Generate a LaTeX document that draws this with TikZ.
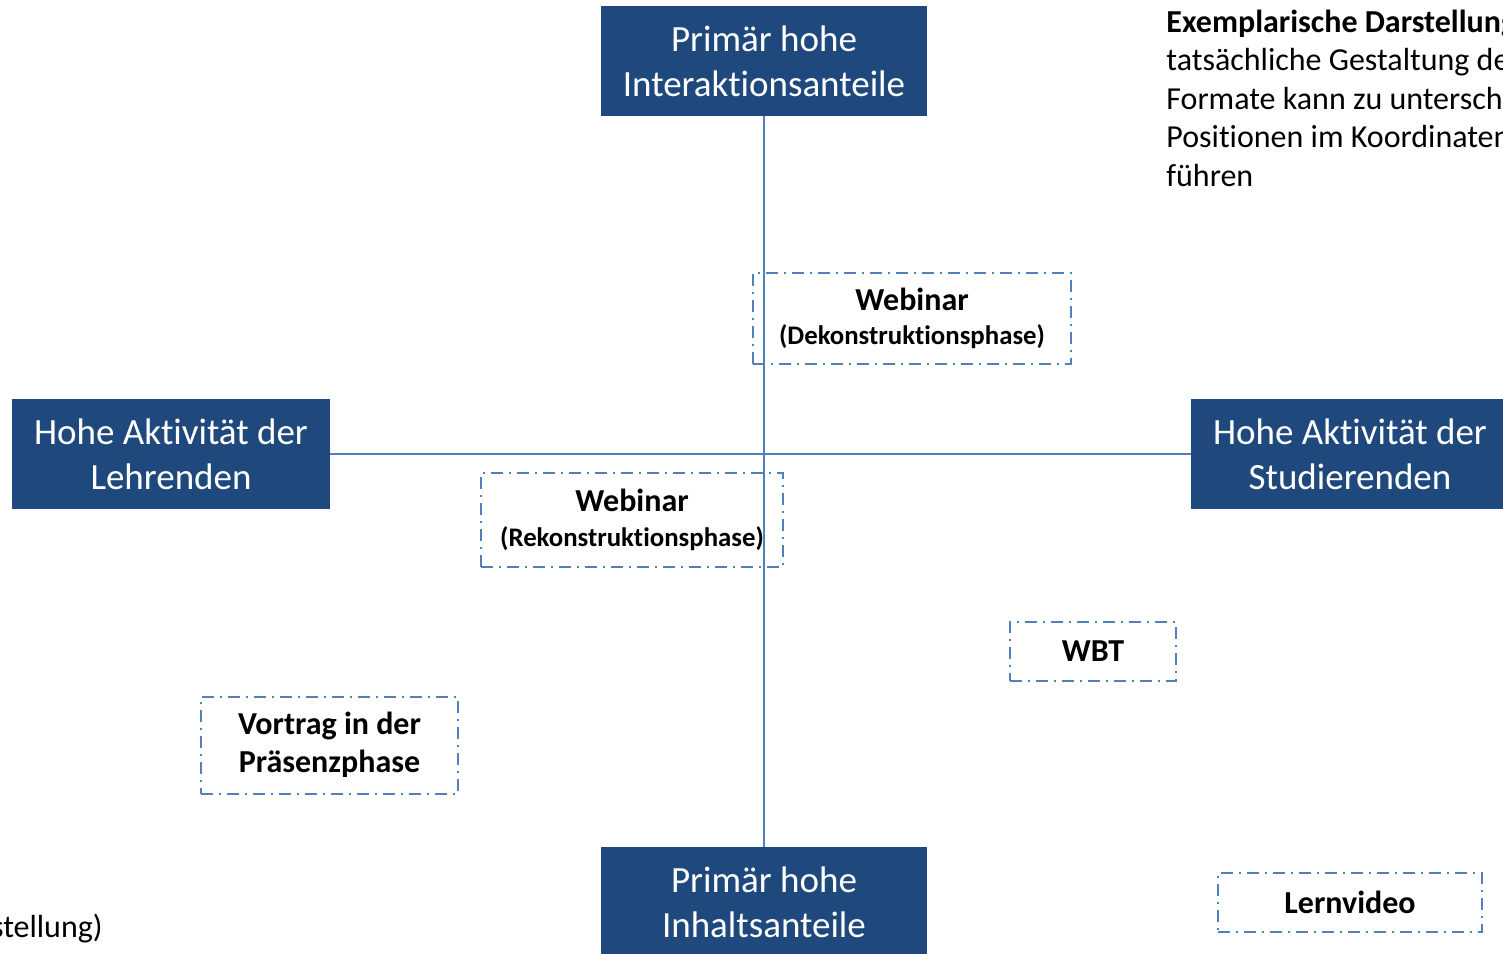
\documentclass[tikz,border=0pt]{standalone}
\usepackage{fontspec}
\setmainfont{Carlito}[Ligatures=NoCommon]
\definecolor{dunkelblau}{HTML}{1F497D}
\definecolor{hellblau}{HTML}{4F81BD}
\begin{document}
\begin{tikzpicture}[x=0.5pt,y=-0.5pt,
  pol/.style={fill=dunkelblau, text=white, align=center, inner sep=0pt,
    minimum height=55pt, font=\fontsize{18.5}{22.5}\selectfont},
  format/.style={draw=hellblau, line width=1pt,
    dash pattern=on 6pt off 3pt on 1pt off 3pt, align=center, inner sep=0pt,
    font=\fontsize{16}{19}\selectfont\bfseries},
  achse/.style={draw=hellblau, line width=1pt}]
  \useasboundingbox (0,0) rectangle (1503,953);
  \clip (0,0) rectangle (1503,953);
  % Pole
  \node[pol, minimum width=163pt] (oben) at (764,61) {Primär hohe\\Interaktionsanteile};
  \node[pol, minimum width=163pt] (unten) at (764,902) {Primär hohe\\Inhaltsanteile};
  \node[pol, minimum width=159pt] (links) at (171,454) {Hohe Aktivität der\\Lehrenden};
  \node[pol, minimum width=159pt] (rechts) at (1350,454) {Hohe Aktivität der\\Studierenden};
  % Achsen
  \draw[achse] (oben) -- (unten);
  \draw[achse] (links) -- (rechts);
  % Formate
  \node[format, minimum width=159pt, minimum height=45.5pt] (dekon) at (912,318)
    {Webinar\\[-2pt]{\fontsize{13.4}{17}\selectfont(Dekonstruktionsphase)}};
  \node[format, minimum width=151pt, minimum height=47pt] (rekon) at (632,520)
    {Webinar\\[-1.5pt]{\fontsize{13.4}{17}\selectfont(Rekonstruktionsphase)}};
  \node[format, minimum width=83pt, minimum height=29.5pt] (wbt) at (1093,651) {WBT};
  \node[format, minimum width=128.5pt, minimum height=48.5pt] (vortrag) at (329.5,745)
    {Vortrag in der\\Präsenzphase};
  \node[format, minimum width=132pt, minimum height=29.5pt] (lernvideo) at (1350,902) {Lernvideo};
  % Hinweise
  \node[anchor=base west, inner sep=0pt, align=left, font=\fontsize{16}{19.25}\selectfont]
    (hinweis) at (1166,186) {\textbf{Exemplarische Darstellung:} die\\tatsächliche Gestaltung der\\Formate kann zu unterschiedlichen\\Positionen im Koordinatensystem\\führen};
  \node[anchor=base east, inner sep=0pt, font=\fontsize{16}{19.25}\selectfont]
    (quelle) at (103,937) {(eigene Darstellung)};
\end{tikzpicture}
\end{document}
